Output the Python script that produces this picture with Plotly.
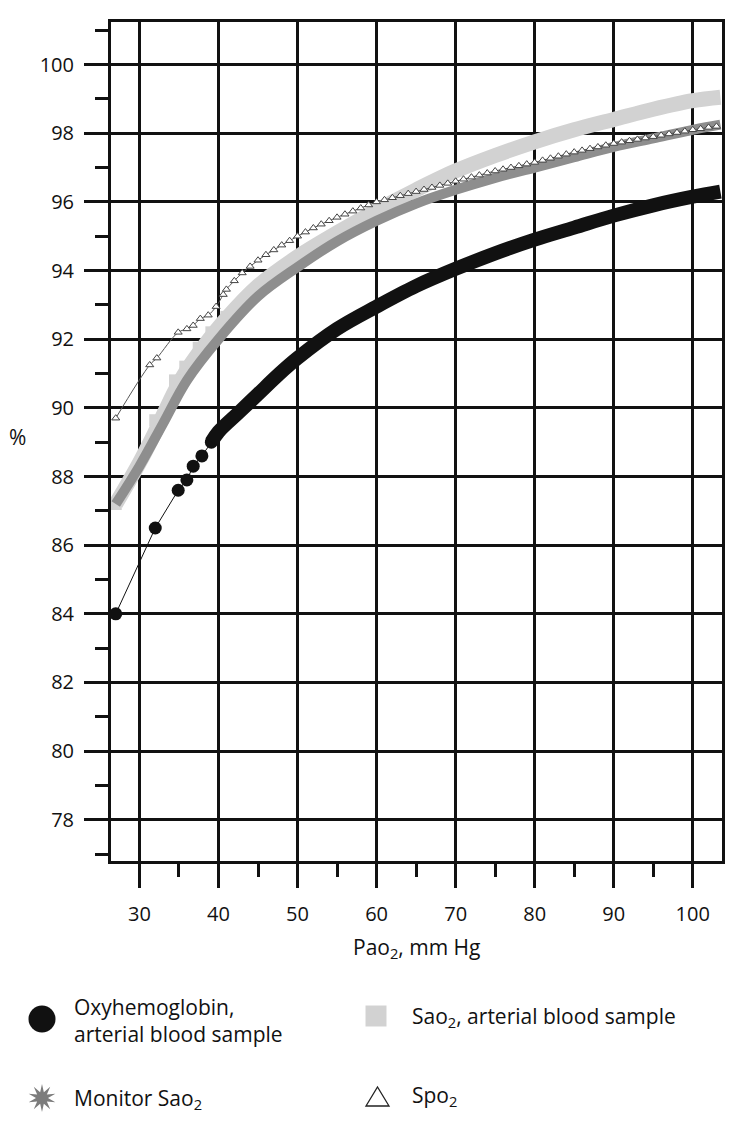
import math
import plotly.graph_objects as go

# Oxyhemoglobin, arterial blood sample (black): separate dots, then dense band
oxy_dot_x = [27, 32, 34.9, 36, 36.8, 37.9, 39.1]
oxy_dot_y = [84.0, 86.5, 87.6, 87.9, 88.3, 88.6, 89.0]
oxy_band_x = [39.1, 40, 42.5, 45, 47.5, 50, 55, 60, 65, 70, 75, 80, 85, 90, 95, 100, 103.5]
oxy_band_y = [89.0, 89.3, 89.85, 90.4, 90.95, 91.45, 92.3, 92.95, 93.55, 94.05, 94.5, 94.9, 95.25, 95.6, 95.9, 96.15, 96.3]

# Sao2, arterial blood sample (light gray)
sao2_x = [27, 30, 32, 34.5, 36, 38, 41, 45, 50, 55, 60, 65, 70, 75, 80, 85, 90, 95, 100, 103.5]
sao2_y = [87.2, 88.4, 89.3, 90.5, 91.1, 91.75, 92.6, 93.55, 94.4, 95.1, 95.75, 96.35, 96.9, 97.35, 97.75, 98.1, 98.4, 98.7, 98.95, 99.05]
sao2_pt_x = [27, 32, 34.5, 35.8, 37.5, 39.1, 41]
sao2_pt_y = [87.2, 89.64, 90.8, 91.2, 91.75, 92.2, 92.65]

# Monitor Sao2 (dark gray)
mon_x = [27, 30, 33, 36, 40, 45, 50, 55, 60, 65, 70, 75, 80, 85, 90, 95, 100, 103.5]
mon_y = [87.2, 88.3, 89.55, 90.8, 92.0, 93.25, 94.1, 94.85, 95.45, 95.95, 96.35, 96.7, 97.0, 97.3, 97.6, 97.85, 98.1, 98.25]

# Spo2 (open triangles)
spo2_x = [27, 31.3, 32.2, 34.9, 36, 36.8, 37.7, 38.7, 39.7, 40.6] + list(range(41, 104))
spo2_y = [89.7, 91.25, 91.45, 92.2, 92.3, 92.4, 92.6, 92.7, 92.95, 93.3,
          93.45, 93.7, 93.93, 94.12, 94.3, 94.46, 94.6, 94.74, 94.87, 95.0,
          95.12, 95.24, 95.35, 95.45, 95.55, 95.64, 95.73, 95.82, 95.91, 96.0,
          96.06, 96.12, 96.18, 96.24, 96.3, 96.36, 96.42, 96.48, 96.54, 96.6,
          96.66, 96.72, 96.78, 96.84, 96.9, 96.95, 97.0, 97.05, 97.1, 97.15,
          97.21, 97.27, 97.33, 97.39, 97.45, 97.5, 97.55, 97.6, 97.65, 97.7,
          97.74, 97.78, 97.82, 97.86, 97.9, 97.94, 97.98, 98.02, 98.06, 98.1,
          98.13, 98.17, 98.2]

x_ticks = [30, 40, 50, 60, 70, 80, 90, 100]
y_ticks = [78, 80, 82, 84, 86, 88, 90, 92, 94, 96, 98, 100]

legend_labels = ["Oxyhemoglobin,<br>arterial blood sample", "Sao<sub>2</sub>, arterial blood sample",
                 "Monitor Sao<sub>2</sub>", "Spo<sub>2</sub>"]

FONT = "Open Sans"
BLACK = "#111111"
LIGHT = "#d2d2d2"
DARK = "#8e8e8e"
STAR = "#7c7c7c"

# plot area in page pixels (page body adds 8px offset, figure sized to fit)
PX0, PX1, PY0, PY1 = 111, 722, 22, 861


def px(x):
    return (x - PX0) / (PX1 - PX0)


def py(y):
    return (PY1 - y) / (PY1 - PY0)


fig = go.Figure()

# light gray band with square steps
fig.add_trace(go.Scatter(x=sao2_x, y=sao2_y, mode="lines", line=dict(color=LIGHT, width=15, shape="spline"),
                         hoverinfo="skip"))
fig.add_trace(go.Scatter(x=sao2_pt_x, y=sao2_pt_y, mode="markers",
                         marker=dict(symbol="square", size=12, color=LIGHT)))
# dark gray band
fig.add_trace(go.Scatter(x=mon_x, y=mon_y, mode="lines", line=dict(color=DARK, width=10, shape="spline")))
# triangles
fig.add_trace(go.Scatter(x=spo2_x, y=spo2_y, mode="lines+markers",
                         line=dict(color="#555555", width=1, shape="spline"),
                         marker=dict(symbol="triangle-up", size=7, color="white",
                                     line=dict(color="#444444", width=1))))
# black dots and band
fig.add_trace(go.Scatter(x=oxy_dot_x, y=oxy_dot_y, mode="lines+markers", line=dict(color=BLACK, width=1),
                         marker=dict(size=13, color=BLACK)))
fig.add_trace(go.Scatter(x=oxy_band_x, y=oxy_band_y, mode="lines", line=dict(color=BLACK, width=14, shape="spline")))

# legend keys drawn as shapes below the plot
shapes = []
shapes.append(dict(type="circle", xref="paper", yref="paper", x0=px(28.5), x1=px(55.5), y0=py(1032.5), y1=py(1005.5),
                   fillcolor=BLACK, line=dict(width=0)))
shapes.append(dict(type="rect", xref="paper", yref="paper", x0=px(365.5), x1=px(386.5), y0=py(1026.5), y1=py(1005.5),
                   fillcolor=LIGHT, line=dict(width=0)))
star_pts = []
for k in range(20):
    r = 14 if k % 2 == 0 else 6
    a = math.pi * k / 10
    star_pts.append((px(42 + r * math.sin(a)), py(1098 - r * math.cos(a))))
star_path = "M " + " L ".join(f"{a:.5f},{b:.5f}" for a, b in star_pts) + " Z"
shapes.append(dict(type="path", xref="paper", yref="paper", path=star_path, fillcolor=STAR, line=dict(width=0)))
tri_path = f"M {px(366):.5f},{py(1106):.5f} L {px(389):.5f},{py(1106):.5f} L {px(377.5):.5f},{py(1087):.5f} Z"
shapes.append(dict(type="path", xref="paper", yref="paper", path=tri_path, fillcolor="white",
                   line=dict(color="#222222", width=1.3)))

legend_pos = [(72, 1020), (410, 1017), (72, 1099), (410, 1096)]
annotations = []
for label, (lx, ly) in zip(legend_labels, legend_pos):
    annotations.append(dict(text=label, x=px(lx), y=py(ly), xref="paper", yref="paper", showarrow=False,
                            xanchor="left", yanchor="middle", align="left",
                            font=dict(family=FONT, size=21, color=BLACK)))
annotations.append(dict(text="%", x=px(18), y=py(437), xref="paper", yref="paper", showarrow=False,
                        xanchor="center", yanchor="middle", font=dict(family=FONT, size=21, color=BLACK)))
annotations.append(dict(text="Pao<sub>2</sub>, mm Hg", x=0.5, y=py(948), xref="paper", yref="paper", showarrow=False,
                        xanchor="center", yanchor="middle", font=dict(family=FONT, size=21, color=BLACK)))

axis_common = dict(
    showline=True, linecolor=BLACK, linewidth=3, mirror=True,
    showgrid=True, gridcolor=BLACK, gridwidth=3, zeroline=False,
    ticks="outside", ticklen=24, tickwidth=3, tickcolor=BLACK,
    tickfont=dict(family=FONT, size=20, color=BLACK),
)

fig.update_layout(
    width=742, height=1128,
    margin=dict(l=PX0 - 8, r=742 - (PX1 - 8), t=PY0 - 8, b=1128 - (PY1 - 8)),
    paper_bgcolor="white", plot_bgcolor="white",
    showlegend=False,
    xaxis=dict(range=[26.4, 103.7], tickvals=x_ticks,
               minor=dict(dtick=5, tick0=25, ticklen=13, tickwidth=3, tickcolor=BLACK, ticks="outside", showgrid=False),
               ticklabelstandoff=9, **axis_common),
    yaxis=dict(range=[76.8, 101.24], tickvals=y_ticks,
               minor=dict(dtick=1, tick0=77, ticklen=13, tickwidth=3, tickcolor=BLACK, ticks="outside", showgrid=False),
               ticklabelstandoff=6, **axis_common),
    shapes=shapes,
    annotations=annotations,
)

fig.write_html("out.html")
